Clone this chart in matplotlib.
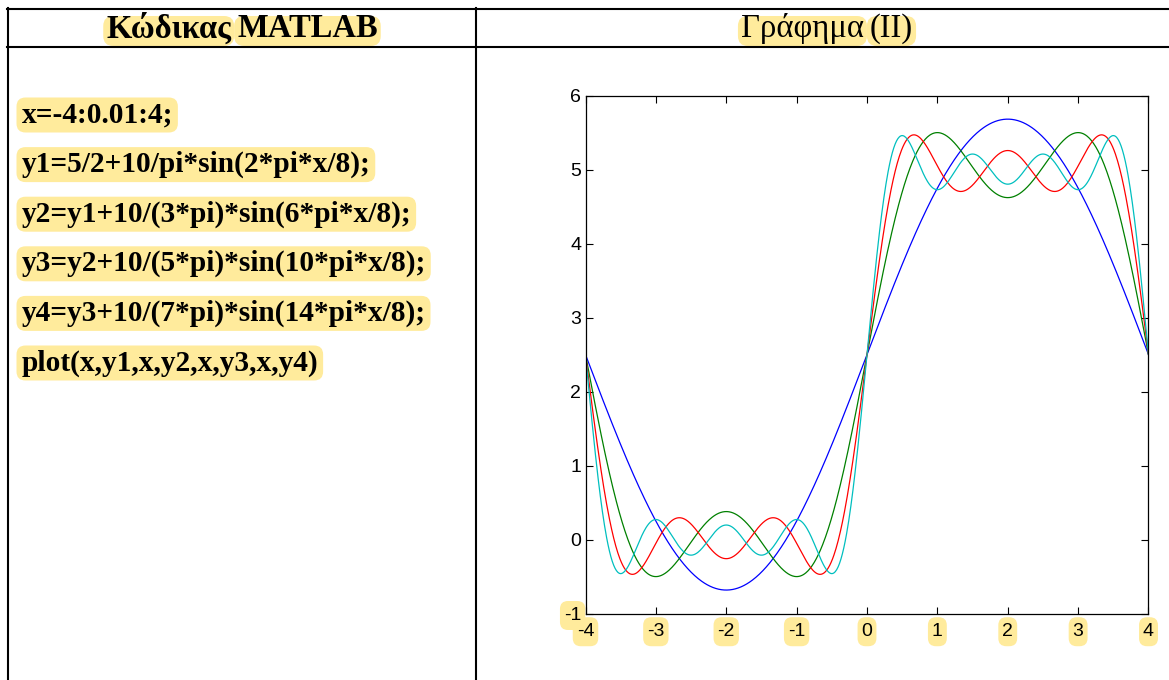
import numpy as np
import matplotlib
matplotlib.use("Agg")
import matplotlib.pyplot as plt
from matplotlib.lines import Line2D
from matplotlib.patches import FancyBboxPatch

# ---- data (taken from the MATLAB code shown in the chart) ----
x_start, x_step, x_stop = -4.0, 0.01, 4.0
offset = 5 / 2
amplitude = 10
harmonics = [1, 3, 5, 7]
series_colors = ["#0000FF", "#008000", "#FF0000", "#00BFBF"]
x_ticks = [-4, -3, -2, -1, 0, 1, 2, 3, 4]
y_ticks = [-1, 0, 1, 2, 3, 4, 5, 6]

header_left = ["Κώδικας", "MATLAB"]
header_right = ["Γράφημα", "(ΙΙ)"]
code_lines = [
    "x=-4:0.01:4;",
    "y1=5/2+10/pi*sin(2*pi*x/8);",
    "y2=y1+10/(3*pi)*sin(6*pi*x/8);",
    "y3=y2+10/(5*pi)*sin(10*pi*x/8);",
    "y4=y3+10/(7*pi)*sin(14*pi*x/8);",
    "plot(x,y1,x,y2,x,y3,x,y4)",
]

HL = "#FFEB9C"
W, H = 1169, 680
plt.rcParams["axes.unicode_minus"] = False

fig = plt.figure(figsize=(W / 100, H / 100), dpi=100)
fig.patch.set_facecolor("white")


def fx(px):
    return px / W


def fy(py):
    return 1 - py / H


# ---- table lines ----
lw = 1.5
for (x0, y0, x1, y1) in [(7, 9, W, 9), (7, 46.5, W, 46.5),
                         (7.7, 8, 7.7, H), (475.7, 8, 475.7, H)]:
    fig.add_artist(Line2D([fx(x0), fx(x1)], [fy(y0), fy(y1)], color="black",
                          lw=lw, transform=fig.transFigure, zorder=5))

serif = "Liberation Serif"
HEAD_Y = 28.5
t1 = fig.text(0, fy(HEAD_Y), header_left[0], family=serif, weight="bold",
              fontsize=23.5, ha="left", va="center")
t2 = fig.text(0, fy(HEAD_Y), header_left[1], family=serif, weight="bold",
              fontsize=23.5, ha="left", va="center")
t3 = fig.text(0, fy(HEAD_Y), header_right[0], family=serif,
              fontsize=23.5, ha="left", va="center")
t4 = fig.text(0, fy(HEAD_Y), header_right[1], family=serif,
              fontsize=23.5, ha="left", va="center")

code_texts = []
for i, line in enumerate(code_lines):
    t = fig.text(fx(21.5), fy(115 + i * 49.6), line, family=serif,
                 weight="bold", fontsize=21.2, ha="left", va="center")
    code_texts.append(t)

# ---- axes ----
ax = fig.add_axes([fx(585.5), fy(613.5), fx(1148.5 - 585.5), (613.5 - 95.7) / H])
ax.patch.set_visible(False)
x = np.arange(x_start, x_stop + x_step / 2, x_step)
y = np.full_like(x, offset)
for n, c in zip(harmonics, series_colors):
    y = y + amplitude / (n * np.pi) * np.sin(2 * n * np.pi * x / 8)
    ax.plot(x, y, color=c, lw=0.9)
ax.set_xlim(-4, 4)
ax.set_ylim(-1, 6)
ax.set_xticks(x_ticks)
ax.set_yticks(y_ticks)
ax.tick_params(direction="in", length=5, width=0.8, top=True, right=True,
               labelsize=14, pad=4)
ax.tick_params(axis="x", pad=7)
ax.tick_params(axis="y", pad=3)
for lab in ax.get_xticklabels() + ax.get_yticklabels():
    lab.set_family("Liberation Sans")
for sp in ax.spines.values():
    sp.set_linewidth(0.9)

fig.canvas.draw()
r = fig.canvas.get_renderer()

# position header pieces
gap = 6
w1 = t1.get_window_extent(r).width
w2 = t2.get_window_extent(r).width
start = 242 - (w1 + gap + w2) / 2
t1.set_x(fx(start))
t2.set_x(fx(start + w1 + gap))
w3 = t3.get_window_extent(r).width
w4 = t4.get_window_extent(r).width
start = 827 - (w3 + gap + w4) / 2
t3.set_x(fx(start))
t4.set_x(fx(start + w3 + gap))
fig.canvas.draw()


def highlight(t, h_px, xpad, cy_px, rad):
    bb = t.get_window_extent(r)
    x0 = bb.x0 - xpad
    w = bb.width + 2 * xpad
    y0 = (H - cy_px) - h_px / 2
    p = FancyBboxPatch((x0 + rad, y0 + rad), w - 2 * rad, h_px - 2 * rad,
                       boxstyle=f"round,pad={rad},rounding_size={rad}",
                       fc=HL, ec="none", transform=None, zorder=-1)
    fig.add_artist(p)


for t in (t1, t2, t3, t4):
    highlight(t, 30, 3, 31, 10)
for i, t in enumerate(code_texts):
    highlight(t, 35, 5, 115 + i * 49.6, 9)

# tick label highlights
for lab in ax.get_xticklabels():
    bb = lab.get_window_extent(r)
    highlight(lab, 29, 4, H - (bb.y0 + bb.y1) / 2, 8)
ylab = ax.get_yticklabels()[0]
bb = ylab.get_window_extent(r)
highlight(ylab, 29, 4, H - (bb.y0 + bb.y1) / 2, 8)

fig.savefig("out.png", dpi=100, facecolor="white")
